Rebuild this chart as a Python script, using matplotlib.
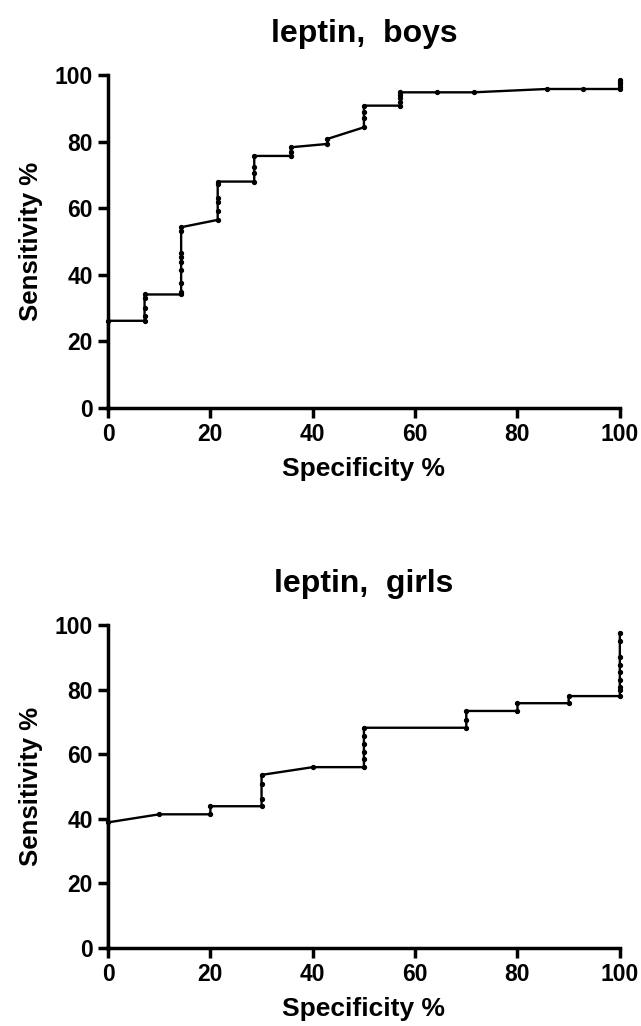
# ROC curves of leptin for boys and girls
# Two stacked panels, Specificity % on x and Sensitivity % on y

import matplotlib
matplotlib.use("Agg")
import matplotlib.pyplot as plt

# boys curve
spec_boys = [0, 0,
             7.14, 7.14, 7.14, 7.14, 7.14,
             14.29, 14.29, 14.29, 14.29, 14.29, 14.29, 14.29, 14.29, 14.29,
             21.43, 21.43, 21.43, 21.43, 21.43, 21.43,
             28.57, 28.57, 28.57, 28.57,
             35.71, 35.71, 35.71,
             42.86, 42.86,
             50, 50, 50, 50,
             57.14, 57.14, 57.14, 57.14, 57.14,
             64.29, 71.43, 85.71, 92.86,
             100, 100, 100, 100, 100]
sens_boys = [0, 26.2,
             26.2, 27.7, 29.9, 32.9, 34.1,
             34.1, 34.9, 37.4, 41.4, 43.9, 45.4, 46.5, 53.3, 54.3,
             56.5, 59.3, 62.0, 63.0, 67.3, 68.0,
             68.0, 70.5, 72.5, 75.7,
             75.7, 77.0, 78.3,
             79.3, 80.8,
             84.3, 87.0, 88.8, 90.8,
             90.8, 92.0, 93.0, 94.0, 94.8,
             94.8, 94.8, 95.8, 95.8,
             95.8, 96.5, 97.2, 98.0, 98.5]

# girls curve
spec_girls = [0, 0,
              10,
              20, 20,
              30, 30, 30, 30,
              40,
              50, 50, 50, 50, 50, 50,
              70, 70, 70,
              80, 80,
              90, 90,
              100, 100, 100, 100, 100, 100, 100, 100, 100]
sens_girls = [0, 38.9,
              41.4,
              41.4, 43.9,
              43.9, 46.1, 50.9, 53.6,
              56.0,
              56.0, 58.5, 60.8, 63.3, 65.7, 68.2,
              68.2, 70.6, 73.4,
              73.4, 75.8,
              75.8, 78.0,
              78.0, 79.9, 80.9, 83.0, 85.5, 87.6, 90.2, 95.1, 97.6]

ticks = [0, 20, 40, 60, 80, 100]

plt.rcParams['font.family'] = ['Liberation Sans', 'DejaVu Sans']
plt.rcParams['font.weight'] = 'bold'


def draw_roc(ax, spec, sens, title):
    """
    Draws one ROC panel in the Prism-like style of the reference.

    :param ax: the axes to draw on
    :param spec: specificity values (%)
    :param sens: sensitivity values (%)
    :param title: panel title
    """
    ax.plot(spec, sens, color='black', linewidth=1.7, marker='o',
            markersize=2.8, clip_on=False, zorder=2)
    ax.set_xlim(0, 100)
    ax.set_ylim(0, 100)
    ax.set_xticks(ticks)
    ax.set_yticks(ticks)

    for side in ['top', 'right']:
        ax.spines[side].set_visible(False)
    for side in ['left', 'bottom']:
        ax.spines[side].set_linewidth(2.5)
        ax.spines[side].set_zorder(3)

    ax.tick_params(width=2.5, length=7, labelsize=16.5, pad=4)
    for lab in ax.get_xticklabels() + ax.get_yticklabels():
        lab.set_fontweight('bold')

    ax.set_xlabel('Specificity %', fontsize=19, fontweight='bold', labelpad=8)
    ax.set_ylabel('Sensitivity %', fontsize=18.5, fontweight='bold', labelpad=8)
    ax.set_title(title, fontsize=23, fontweight='bold', pad=24)


def main():
    fig = plt.figure(figsize=(6.41, 10.26), dpi=100)

    ax_top = fig.add_axes([0.1685, 0.6023, 0.7985, 0.3246])
    ax_bottom = fig.add_axes([0.1685, 0.0760, 0.7985, 0.3148])

    draw_roc(ax_top, spec_boys, sens_boys, 'leptin,  boys')
    draw_roc(ax_bottom, spec_girls, sens_girls, 'leptin,  girls')

    fig.savefig('out.png', dpi=100)


if __name__ == "__main__":
    main()
